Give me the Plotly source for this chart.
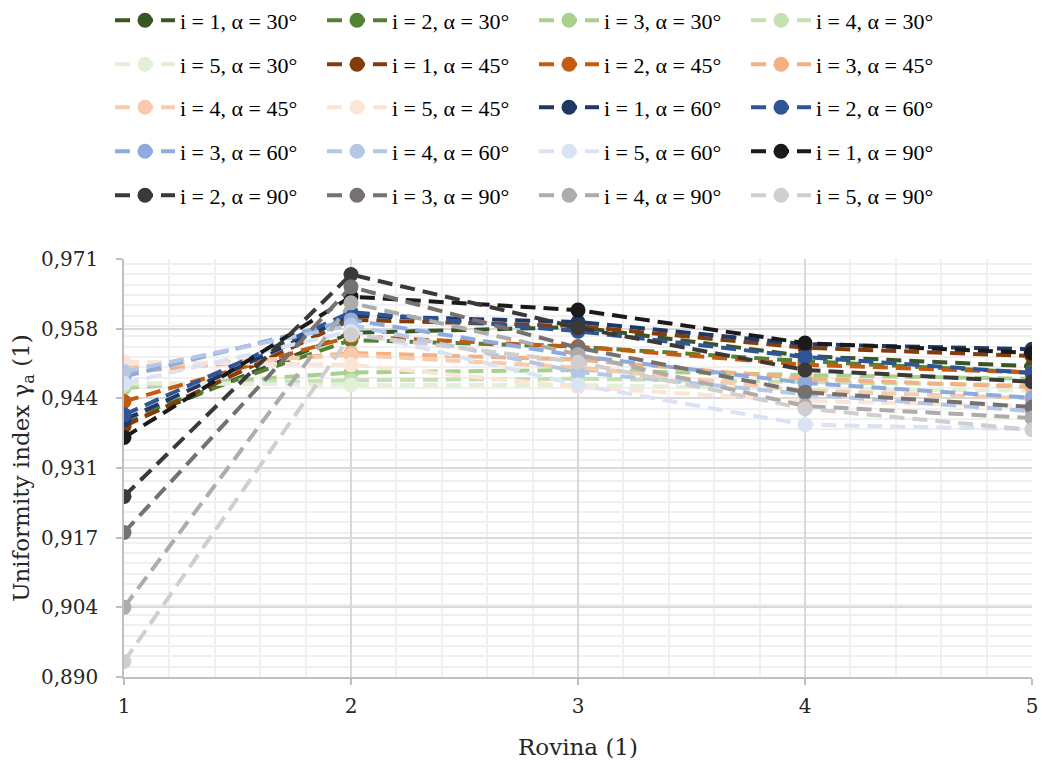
import plotly.graph_objects as go

rows = [1, 2, 3, 4, 5]

# series values (index i, angle alpha)
a30_i1 = [0.9390, 0.9567, 0.9578, 0.9522, 0.9502]
a30_i2 = [0.9400, 0.9553, 0.9540, 0.9512, 0.9490]
a30_i3 = [0.9460, 0.9490, 0.9495, 0.9485, 0.9478]
a30_i4 = [0.9465, 0.9475, 0.9478, 0.9472, 0.9465]
a30_i5 = [0.9470, 0.9466, 0.9466, 0.9458, 0.9455]

a45_i1 = [0.9386, 0.9592, 0.9580, 0.9538, 0.9522]
a45_i2 = [0.9434, 0.9560, 0.9540, 0.9505, 0.9490]
a45_i3 = [0.9490, 0.9528, 0.9515, 0.9478, 0.9462]
a45_i4 = [0.9500, 0.9524, 0.9500, 0.9455, 0.9440]
a45_i5 = [0.9511, 0.9505, 0.9462, 0.9435, 0.9425]

a60_i1 = [0.9398, 0.9600, 0.9588, 0.9545, 0.9535]
a60_i2 = [0.9408, 0.9607, 0.9570, 0.9520, 0.9489]
a60_i3 = [0.9482, 0.9592, 0.9522, 0.9470, 0.9441]
a60_i4 = [0.9492, 0.9582, 0.9491, 0.9448, 0.9415]
a60_i5 = [0.9469, 0.9570, 0.9466, 0.9389, 0.9380]

a90_i1 = [0.9364, 0.9637, 0.9611, 0.9547, 0.9528]
a90_i2 = [0.9250, 0.9680, 0.9577, 0.9495, 0.9472]
a90_i3 = [0.9180, 0.9656, 0.9538, 0.9452, 0.9423]
a90_i4 = [0.9035, 0.9625, 0.9525, 0.9425, 0.9402]
a90_i5 = [0.8930, 0.9563, 0.9510, 0.9420, 0.9379]

series_names = [
    "i = 1, α = 30°", "i = 2, α = 30°", "i = 3, α = 30°", "i = 4, α = 30°", "i = 5, α = 30°",
    "i = 1, α = 45°", "i = 2, α = 45°", "i = 3, α = 45°", "i = 4, α = 45°", "i = 5, α = 45°",
    "i = 1, α = 60°", "i = 2, α = 60°", "i = 3, α = 60°", "i = 4, α = 60°", "i = 5, α = 60°",
    "i = 1, α = 90°", "i = 2, α = 90°", "i = 3, α = 90°", "i = 4, α = 90°", "i = 5, α = 90°",
]
series_values = [
    a30_i1, a30_i2, a30_i3, a30_i4, a30_i5,
    a45_i1, a45_i2, a45_i3, a45_i4, a45_i5,
    a60_i1, a60_i2, a60_i3, a60_i4, a60_i5,
    a90_i1, a90_i2, a90_i3, a90_i4, a90_i5,
]
series_colors = [
    "#375623", "#548235", "#a9d18e", "#c5e0b4", "#e2f0d9",
    "#843c0c", "#c55a11", "#f4b183", "#f8cbad", "#fbe5d6",
    "#203864", "#2f5597", "#8faadc", "#b4c7e7", "#dae3f3",
    "#1a1a1a", "#3b3838", "#767171", "#aeabab", "#d0cece",
]

y_tickvals = [0.890, 0.9035, 0.917, 0.9305, 0.944, 0.9575, 0.971]
y_ticktext = ["0,890", "0,904", "0,917", "0,931", "0,944", "0,958", "0,971"]
x_tickvals = [1, 2, 3, 4, 5]
x_ticktext = ["1", "2", "3", "4", "5"]

W, H = 1042, 763
L, R, T, B = 124, 10, 259, 86
plot_h = H - T - B
plot_w = W - L - R

fig = go.Figure()
for k, (name, vals, col) in enumerate(zip(series_names, series_values, series_colors)):
    r = k // 4
    lg = "legend" if r == 0 else f"legend{r + 1}"
    fig.add_trace(go.Scatter(
        x=rows, y=vals, name=name, mode="lines+markers",
        line=dict(color=col, width=4, dash="15px,8px"),
        marker=dict(color=col, size=15, symbol="circle"),
        legend=lg,
    ))

legend_font = dict(family="Liberation Serif", size=22, color="#000000")
row_centers = [20.5, 64.5, 107.5, 151.5, 195.5]
legend_x_px = 110
layout_legends = {}
for r, yc in enumerate(row_centers):
    key = "legend" if r == 0 else f"legend{r + 1}"
    layout_legends[key] = dict(
        orientation="h",
        x=(legend_x_px - L) / plot_w,
        xanchor="left",
        y=(H - B - yc) / plot_h,
        yanchor="middle",
        entrywidth=137,
        entrywidthmode="pixels",
        font=legend_font,
        bgcolor="rgba(0,0,0,0)",
        traceorder="normal",
        itemwidth=60,
    )

axis_font = dict(family="DejaVu Serif", size=20, color="#262626")
title_font = dict(family="DejaVu Serif", size=23, color="#262626")

fig.update_layout(
    width=W, height=H,
    margin=dict(l=L, r=R, t=T, b=B, autoexpand=False),
    paper_bgcolor="white", plot_bgcolor="white",
    showlegend=True,
    separators=",.",
    xaxis=dict(
        range=[1, 5],
        tickmode="array", tickvals=x_tickvals, ticktext=x_ticktext,
        showgrid=True, gridcolor="#d9d9d9", gridwidth=1.5,
        minor=dict(tickmode="linear", tick0=1, dtick=0.2, showgrid=True,
                   gridcolor="#f0f0f0", gridwidth=1.5),
        showline=True, linecolor="#bfbfbf", linewidth=1.5,
        ticks="outside", ticklen=6, tickcolor="#bfbfbf", tickwidth=1.5,
        ticklabelstandoff=4,
        tickfont=axis_font, automargin=False,
        title=dict(text="Rovina (1)", font=title_font, standoff=22),
        zeroline=False,
    ),
    yaxis=dict(
        range=[0.890, 0.971],
        tickmode="array", tickvals=y_tickvals, ticktext=y_ticktext,
        showgrid=True, gridcolor="#d9d9d9", gridwidth=1.5,
        minor=dict(tickmode="linear", tick0=0.890, dtick=0.002, showgrid=True,
                   gridcolor="#f0f0f0", gridwidth=1.5),
        showline=True, linecolor="#bfbfbf", linewidth=1.5,
        ticks="outside", ticklen=6, tickcolor="#bfbfbf", tickwidth=1.5,
        ticklabelstandoff=14,
        tickfont=axis_font, automargin=False,
        title=dict(text="Uniformity index γ<sub>a</sub> (1)", font=title_font, standoff=5),
        zeroline=False,
    ),
    **layout_legends,
)

fig.write_html(
    "out.html",
    config={"displayModeBar": False},
    post_script="document.body.style.margin='0';document.body.style.overflow='hidden';",
)
